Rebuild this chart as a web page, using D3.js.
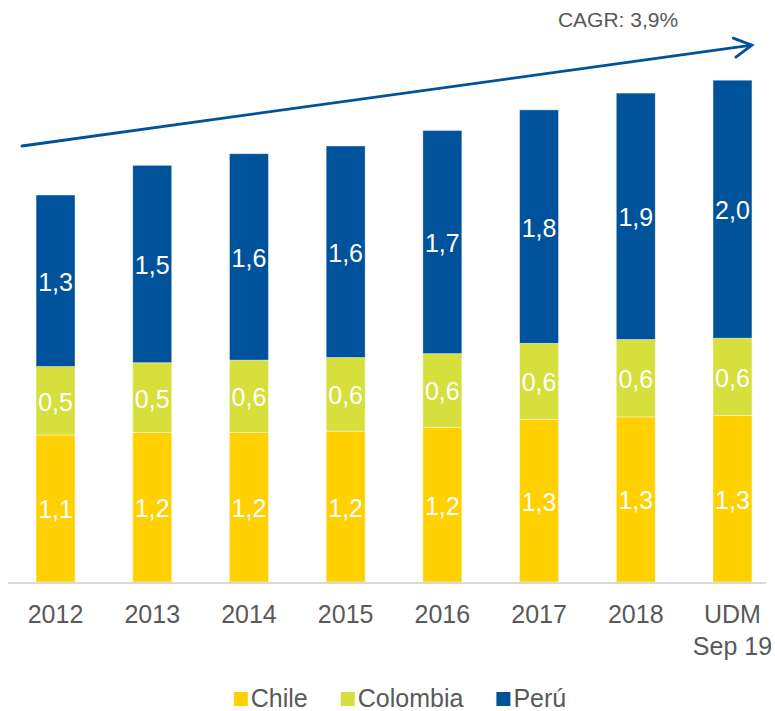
<!DOCTYPE html>
<html>
<head>
<meta charset="utf-8">
<script src="https://cdn.jsdelivr.net/npm/d3@7"></script>
<style>
	body { margin: 0; background: #fff; }
	svg { display: block; font-family: "Liberation Sans", Arial, sans-serif; }
</style>
</head>
<body>
<script>
// categories (x axis), two lines for the last one
const categories = ['2012', '2013', '2014', '2015', '2016', '2017', '2018', 'UDM|Sep 19'];
const seriesNames = ['Chile', 'Colombia', 'Perú'];
const chile    = [1.14, 1.16, 1.16, 1.17, 1.20, 1.26, 1.28, 1.29];
const colombia = [0.53, 0.54, 0.56, 0.57, 0.57, 0.59, 0.60, 0.60];
const peru     = [1.33, 1.53, 1.60, 1.64, 1.73, 1.81, 1.91, 2.00];
const cagrLabel = 'CAGR: 3,9%';

const width = 775, height = 711;
const colors = {Chile: '#FFD100', Colombia: '#D6DF3C', 'Perú': '#00539B'};
const textGray = '#595959';

const locale = d3.formatLocale({decimal: ',', thousands: '.', grouping: [3], currency: ['', '']});
const fmt = locale.format('.1f');

const rows = categories.map((c, i) => ({cat: c, Chile: chile[i], Colombia: colombia[i], 'Perú': peru[i]}));
const stacked = d3.stack().keys(seriesNames)(rows);

const x = d3.scaleBand()
	.domain(categories)
	.range([8, 780])
	.paddingInner(0.597)
	.paddingOuter(0.29);
const y = d3.scaleLinear().domain([0, 4.5]).range([582, 1.5]);

const svg = d3.select('body').append('svg')
	.attr('width', width)
	.attr('height', height);

// bars
const layers = svg.append('g').selectAll('g.layer')
	.data(stacked)
	.join('g')
	.attr('class', 'layer')
	.attr('fill', d => colors[d.key]);

layers.selectAll('rect')
	.data(d => d)
	.join('rect')
	.attr('x', d => x(d.data.cat))
	.attr('y', d => y(d[1]))
	.attr('width', x.bandwidth())
	.attr('height', d => y(d[0]) - y(d[1]))
	.attr('stroke', '#fff')
	.attr('stroke-opacity', 0.5)
	.attr('stroke-width', 0.8);

// value labels
layers.selectAll('text')
	.data(d => d)
	.join('text')
	.attr('x', d => x(d.data.cat) + x.bandwidth() / 2)
	.attr('y', d => (y(d[0]) + y(d[1])) / 2 + 1)
	.attr('text-anchor', 'middle')
	.attr('dominant-baseline', 'central')
	.attr('fill', '#fff')
	.style('font-size', '25px')
	.text(d => fmt(d[1] - d[0]));

// x axis line
svg.append('line')
	.attr('x1', x.range()[0])
	.attr('x2', x(categories[categories.length - 1]) + x.bandwidth() + 14)
	.attr('y1', y(0) + 1)
	.attr('y2', y(0) + 1)
	.attr('stroke', '#D9D9D9')
	.attr('stroke-width', 2);

// x tick labels
const ticks = svg.append('g').selectAll('text')
	.data(categories)
	.join('text')
	.attr('x', d => x(d) + x.bandwidth() / 2)
	.attr('y', y(0) + 41)
	.attr('text-anchor', 'middle')
	.attr('fill', textGray)
	.style('font-size', '25px');
ticks.selectAll('tspan')
	.data(d => d.split('|'))
	.join('tspan')
	.attr('x', function() { return d3.select(this.parentNode).attr('x'); })
	.attr('dy', (d, i) => i ? 32 : 0)
	.text(d => d);

// CAGR arrow, from above the first bar to above the last one
const totals = rows.map(r => r.Chile + r.Colombia + r['Perú']);
const ax1 = x.range()[0] + 14, ay1 = y(totals[0]) - 49;
const ax2 = x(categories[categories.length - 1]) + x.bandwidth(), ay2 = y(totals[totals.length - 1]) - 35;
const ang = Math.atan2(ay2 - ay1, ax2 - ax1);
const head = 20, spread = 0.5;
svg.append('path')
	.attr('d', `M${ax1},${ay1}L${ax2},${ay2}`
		+ `M${ax2 - head * Math.cos(ang - spread)},${ay2 - head * Math.sin(ang - spread)}L${ax2},${ay2}`
		+ `L${ax2 - head * Math.cos(ang + spread)},${ay2 - head * Math.sin(ang + spread)}`)
	.attr('fill', 'none')
	.attr('stroke', colors['Perú'])
	.attr('stroke-width', 2.8)
	.attr('stroke-linecap', 'round')
	.attr('stroke-linejoin', 'miter');

svg.append('text')
	.attr('x', 618)
	.attr('y', 27)
	.attr('text-anchor', 'middle')
	.attr('fill', textGray)
	.style('font-size', '21px')
	.text(cagrLabel);

// legend
const legend = svg.append('g');
let lx = 0;
const items = legend.selectAll('g')
	.data(seriesNames)
	.join('g');
items.append('rect')
	.attr('y', -14)
	.attr('width', 14)
	.attr('height', 14)
	.attr('fill', d => colors[d]);
items.append('text')
	.attr('x', 17)
	.attr('y', 1)
	.attr('fill', textGray)
	.style('font-size', '25px')
	.text(d => d);
items.each(function() {
	const g = d3.select(this);
	g.attr('transform', `translate(${lx},0)`);
	lx += 17 + g.select('text').node().getComputedTextLength() + 33;
});
lx -= 33;
legend.attr('transform', `translate(${400 - lx / 2},706)`);
</script>
</body>
</html>
